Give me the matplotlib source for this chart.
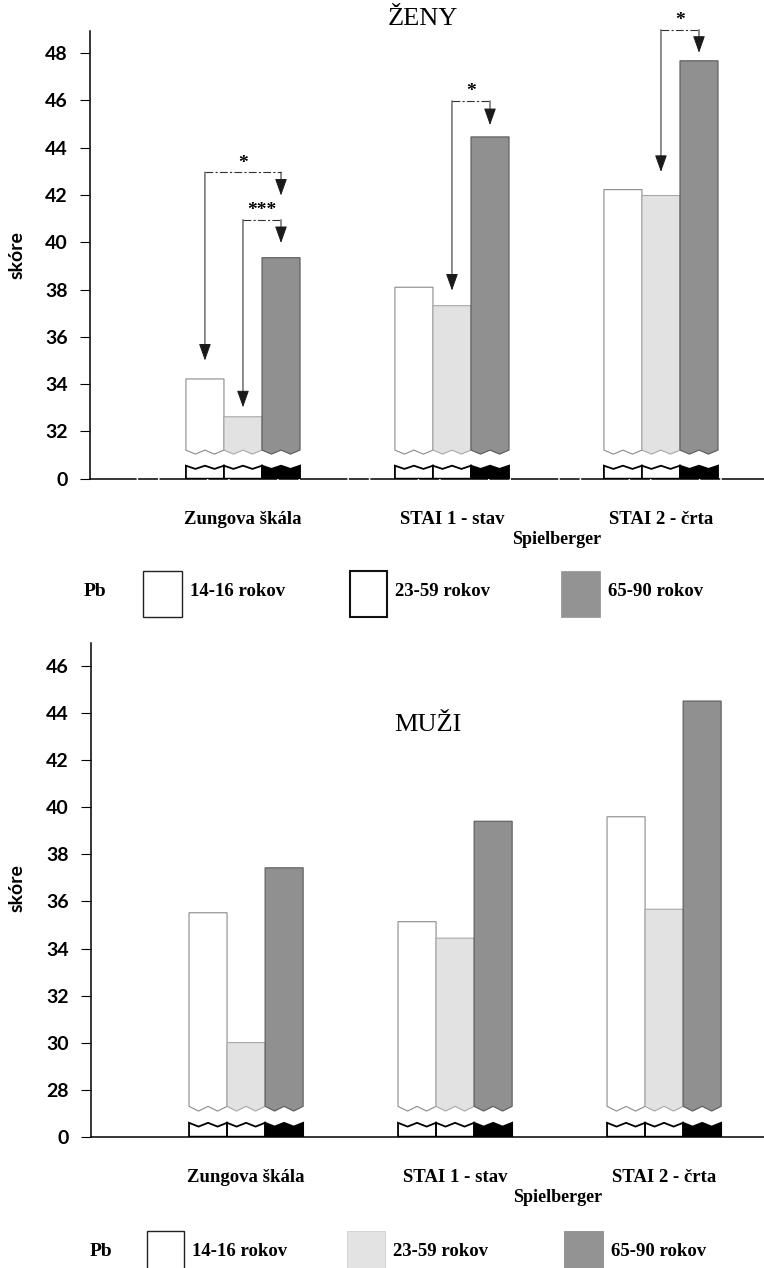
import numpy as np
import matplotlib
matplotlib.use("Agg")
import matplotlib.pyplot as plt
from matplotlib.patches import Polygon, Rectangle

# ---- data ----
categories = ["Zungova škála", "STAI 1 - stav", "STAI 2 - črta"]
age_groups = ["14-16 rokov", "23-59 rokov", "65-90 rokov"]

zeny_14_16 = [34.22, 38.10, 42.23]
zeny_23_59 = [32.62, 37.32, 41.98]
zeny_65_90 = [39.35, 44.46, 47.68]

muzi_14_16 = [35.52, 35.14, 39.60]
muzi_23_59 = [30.00, 34.44, 35.67]
muzi_65_90 = [37.43, 39.41, 44.52]

zeny_ticks = [32, 34, 36, 38, 40, 42, 44, 46, 48]
muzi_ticks = [28, 30, 32, 34, 36, 38, 40, 42, 44, 46]

# significance marks (women only): group, bar from, bar to, label
zeny_sig = [(0, 0, 2, "*"), (0, 1, 2, "***"), (1, 1, 2, "*"), (2, 1, 2, "*")]
# bracket layout (height of bracket, arrow tips)
zeny_sig_y = [(42.97, 35.0, 41.98), (40.96, 33.02, 39.97),
              (45.99, 37.96, 44.96), (49.0, 42.98, 48.02)]

SERIF = "Liberation Serif"
SANS = "Lato"

FACE = ["white", "#e2e2e2", "#909090"]
EDGE = ["#8a8a8a", "#a8a8a8", "#5a5a5a"]
STUB = ["white", "white", "black"]
W = 0.182

FW, FH = 764, 1268
fig = plt.figure(figsize=(FW / 100, FH / 100), dpi=100)


def fx(x):
    return x / FW


def fy(y):
    return 1 - y / FH


def wave(x0, x1, top, amp):
    xs = x0 + (x1 - x0) * np.array([0, 0.25, 0.5, 0.75, 1.0])
    ys = np.array([top, top - amp, top, top - amp, top])
    return xs, ys


def broken_bar(ax, xc, val, base, cut_hi, stub_hi, amp, j):
    x0, x1 = xc - W / 2, xc + W / 2
    wx, wy = wave(x0, x1, cut_hi, amp)
    pts = [(x0, val), (x1, val)] + list(zip(wx[::-1], wy[::-1]))
    ax.add_patch(Polygon(pts, closed=True, facecolor=FACE[j], edgecolor=EDGE[j], lw=0.8))
    sx, sy = wave(x0, x1, stub_hi, amp * 0.8)
    pts = [(x0, base), (x1, base)] + list(zip(sx[::-1], sy[::-1]))
    ax.add_patch(Polygon(pts, closed=True, facecolor=STUB[j], edgecolor="black", lw=1.3))


def panel(rect, xlim, series, base, ticks, ytop, cut_hi, stub_hi, amp):
    ax = fig.add_axes(rect)
    ax.set_xlim(*xlim)
    ax.set_ylim(base, ytop)
    for j, vals in enumerate(series):
        for g, v in enumerate(vals):
            broken_bar(ax, g + (j - 1) * W, v, base, cut_hi, stub_hi, amp, j)
    for s in ["top", "right"]:
        ax.spines[s].set_visible(False)
    ax.spines["left"].set_linewidth(1.1)
    ax.spines["bottom"].set_linewidth(1.1)
    ax.set_yticks([base] + ticks)
    ax.set_yticklabels(["0"] + [str(t) for t in ticks], fontfamily=SANS,
                       fontweight="bold", fontsize=14)
    ax.tick_params(axis="y", length=7, width=0.8, pad=9)
    ax.set_xticks(range(len(categories)))
    ax.set_xticklabels(categories, fontfamily=SERIF, fontweight="bold", fontsize=13.5)
    ax.tick_params(axis="x", length=0, pad=23)
    return ax


# ---- women ----
ax1 = panel([fx(90), fy(478.7), fx(764 - 90), (478.7 - 31) / FH], (-0.732, 2.493),
            [zeny_14_16, zeny_23_59, zeny_65_90], 30, zeny_ticks, 48.94,
            31.21, 30.55, 0.17)
ax1.spines["bottom"].set_linestyle((0, (30, 2, 12, 2)))

for (g, a, b, lab), (yb, ta, tb) in zip(zeny_sig, zeny_sig_y):
    xa = g + (a - 1) * W
    xb = g + (b - 1) * W
    ax1.plot([xa, xb], [yb, yb], color="#333333", lw=0.8,
             ls=(0, (7, 2, 2, 2)), clip_on=False)
    for xx, tip in [(xa, ta), (xb, tb)]:
        ax1.annotate("", xy=(xx, tip), xytext=(xx, yb),
                     arrowprops=dict(arrowstyle="-|>,head_length=0.7,head_width=0.25",
                                     mutation_scale=15, color="#1a1a1a", lw=0.7,
                                     shrinkA=0, shrinkB=0),
                     annotation_clip=False)
    ax1.text((xa + xb) / 2, yb + 0.02, lab, ha="center", va="bottom",
             fontfamily=SERIF, fontweight="bold", fontsize=14, clip_on=False)

# ---- men ----
ax2 = panel([fx(91), fy(1136.7), fx(764 - 91), (1136.7 - 642.7) / FH], (-0.742, 2.478),
            [muzi_14_16, muzi_23_59, muzi_65_90], 26, muzi_ticks, 47.0,
            27.29, 26.59, 0.2)
ax2.text(0.87, 43.5, "MUŽI", ha="center", va="center",
         fontfamily=SERIF, fontsize=19)

# ---- texts outside the axes ----
fig.text(fx(423), fy(19), "ŽENY", ha="center", va="center", fontfamily=SERIF, fontsize=19)
for ypix in (255, 888):
    fig.text(fx(17), fy(ypix), "skóre", rotation=90, ha="center", va="center",
             fontfamily=SANS, fontweight="bold", fontsize=14)
fig.text(fx(557), fy(540), "Spielberger", ha="center", va="center",
         fontfamily=SERIF, fontweight="bold", fontsize=13)
fig.text(fx(558), fy(1198), "Spielberger", ha="center", va="center",
         fontfamily=SERIF, fontweight="bold", fontsize=13)


# ---- legends ----
def legend_row(ycen, ytop, ybot, pb_x, boxes, faces, edges, lws):
    fig.text(fx(pb_x), fy(ycen), "Pb", ha="center", va="center",
             fontfamily=SERIF, fontweight="bold", fontsize=14)
    for (bx0, bx1), lab, fc, ec, lw in zip(boxes, age_groups, faces, edges, lws):
        fig.add_artist(Rectangle((fx(bx0), fy(ybot)), fx(bx1 - bx0), (ybot - ytop) / FH,
                                 transform=fig.transFigure, facecolor=fc,
                                 edgecolor=ec, lw=lw))
        fig.text(fx(bx1 + 8), fy(ycen), lab, ha="left", va="center",
                 fontfamily=SERIF, fontweight="bold", fontsize=13.5)


legend_row(592, 571, 617, 95, [(143, 182), (350, 387), (561, 600)],
           ["white", "white", "#939393"], ["#222222", "#111111", "#9a9a9a"],
           [1.0, 1.5, 0.6])
legend_row(1251, 1231, 1275, 101, [(147, 184), (347, 385), (564, 603)],
           ["white", "#e3e3e3", "#939393"], ["#222222", "#cfcfcf", "#8a8a8a"],
           [1.0, 0.6, 0.6])

fig.savefig("out.png", dpi=100)
